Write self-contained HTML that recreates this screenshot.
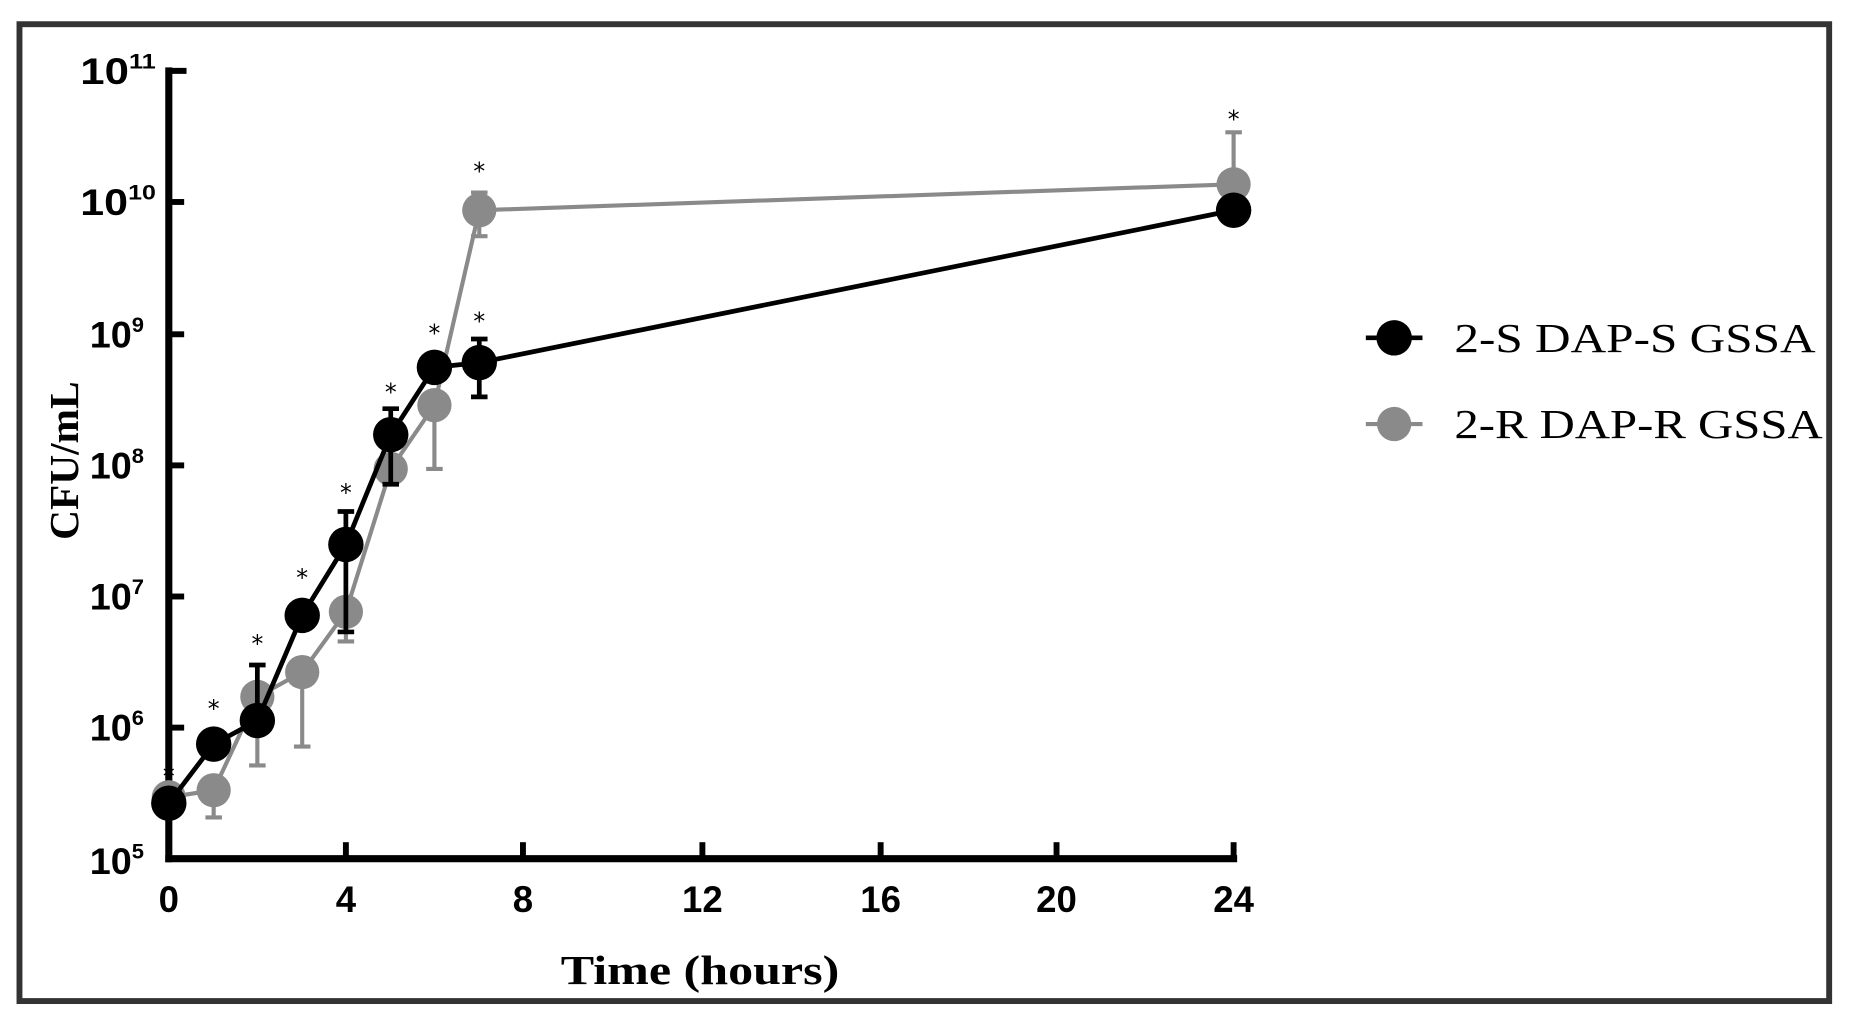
<!DOCTYPE html>
<html><head><meta charset="utf-8"><style>
html,body{margin:0;padding:0;background:#fff;}
svg{display:block}
</style></head><body>
<svg width="1851" height="1030" viewBox="0 0 1568 872" preserveAspectRatio="none" xmlns="http://www.w3.org/2000/svg">
<rect x="0" y="0" width="1568" height="872" fill="#fff"/>
<rect x="16.5" y="20.5" width="1533" height="827" fill="none" stroke="#333" stroke-width="5"/>
<g stroke="#000" stroke-width="6" fill="none">
<line x1="143" y1="57" x2="143" y2="730"/>
<line x1="140" y1="727" x2="1048" y2="727"/>
</g>
<g stroke="#000" stroke-width="5">
<line x1="143" y1="60" x2="158" y2="60"/>
<line x1="143" y1="171" x2="156" y2="171"/>
<line x1="143" y1="283" x2="156" y2="283"/>
<line x1="143" y1="394" x2="156" y2="394"/>
<line x1="143" y1="505" x2="156" y2="505"/>
<line x1="143" y1="616" x2="156" y2="616"/>
<line x1="293" y1="727" x2="293" y2="713"/>
<line x1="443" y1="727" x2="443" y2="713"/>
<line x1="595" y1="727" x2="595" y2="713"/>
<line x1="746" y1="727" x2="746" y2="713"/>
<line x1="895" y1="727" x2="895" y2="713"/>
<line x1="1045" y1="727" x2="1045" y2="713"/>
</g>
<g font-family="Liberation Sans, sans-serif" font-weight="bold" font-size="31" fill="#000" text-anchor="end">
<text x="132" y="71" textLength="64" lengthAdjust="spacingAndGlyphs">10<tspan font-size="18" dy="-13">11</tspan></text>
<text x="132" y="182" textLength="64" lengthAdjust="spacingAndGlyphs">10<tspan font-size="18" dy="-13">10</tspan></text>
<text x="122" y="294" textLength="46" lengthAdjust="spacingAndGlyphs">10<tspan font-size="18" dy="-13">9</tspan></text>
<text x="122" y="405" textLength="46" lengthAdjust="spacingAndGlyphs">10<tspan font-size="18" dy="-13">8</tspan></text>
<text x="122" y="516" textLength="46" lengthAdjust="spacingAndGlyphs">10<tspan font-size="18" dy="-13">7</tspan></text>
<text x="122" y="627" textLength="46" lengthAdjust="spacingAndGlyphs">10<tspan font-size="18" dy="-13">6</tspan></text>
<text x="122" y="740" textLength="46" lengthAdjust="spacingAndGlyphs">10<tspan font-size="18" dy="-13">5</tspan></text>
</g>
<g font-family="Liberation Sans, sans-serif" font-weight="bold" font-size="31" fill="#000" text-anchor="middle">
<text x="143" y="772">0</text><text x="293" y="772">4</text><text x="443" y="772">8</text>
<text x="595" y="772">12</text><text x="746" y="772">16</text><text x="895" y="772">20</text><text x="1045" y="772">24</text>
</g>
<text x="593" y="833" font-family="Liberation Serif, serif" font-weight="bold" font-size="35" text-anchor="middle" textLength="236" lengthAdjust="spacingAndGlyphs">Time (hours)</text>
<text transform="translate(66,390) rotate(-90)" font-family="Liberation Serif, serif" font-weight="bold" font-size="35" text-anchor="middle">CFU/mL</text>
<!-- gray series -->
<g stroke="#8a8a8a" stroke-width="3.5" fill="none">
<polyline points="143,675 181,669 218,590 256,569 293,518 331,397 368,343 406,178 1045,156"/>
<line x1="181" y1="669" x2="181" y2="692"/><line x1="174" y1="692" x2="188" y2="692"/>
<line x1="218" y1="590" x2="218" y2="648"/><line x1="211" y1="648" x2="225" y2="648"/>
<line x1="256" y1="569" x2="256" y2="632"/><line x1="249" y1="632" x2="263" y2="632"/>
<line x1="293" y1="518" x2="293" y2="543"/><line x1="286" y1="543" x2="300" y2="543"/>
<line x1="331" y1="397" x2="331" y2="408"/><line x1="324" y1="408" x2="338" y2="408"/>
<line x1="368" y1="343" x2="368" y2="397"/><line x1="361" y1="397" x2="375" y2="397"/>
<line x1="406" y1="163" x2="406" y2="200"/><line x1="399" y1="163" x2="413" y2="163"/><line x1="399" y1="200" x2="413" y2="200"/>
<line x1="1045" y1="112" x2="1045" y2="156"/><line x1="1038" y1="112" x2="1052" y2="112"/>
</g>
<g fill="#8a8a8a">
<circle cx="143" cy="675" r="14.5"/><circle cx="181" cy="669" r="14.5"/><circle cx="218" cy="590" r="14.5"/>
<circle cx="256" cy="569" r="14.5"/><circle cx="293" cy="518" r="14.5"/><circle cx="331" cy="397" r="14.5"/>
<circle cx="368" cy="343" r="14.5"/><circle cx="406" cy="178" r="14.5"/><circle cx="1045" cy="156" r="14.5"/>
</g>
<!-- black series -->
<g stroke="#000" stroke-width="4" fill="none">
<polyline points="143,680 181,630 218,610 256,521 293,461 331,368 368,311 406,307 1045,178"/>
<line x1="218" y1="563" x2="218" y2="610"/><line x1="211" y1="563" x2="225" y2="563"/>
<line x1="293" y1="433" x2="293" y2="535"/><line x1="286" y1="433" x2="300" y2="433"/><line x1="286" y1="535" x2="300" y2="535"/>
<line x1="331" y1="346" x2="331" y2="410"/><line x1="324" y1="346" x2="338" y2="346"/><line x1="324" y1="410" x2="338" y2="410"/>
<line x1="406" y1="287" x2="406" y2="336"/><line x1="399" y1="287" x2="413" y2="287"/><line x1="399" y1="336" x2="413" y2="336"/>
</g>
<g fill="#000">
<circle cx="143" cy="680" r="15"/><circle cx="181" cy="630" r="15"/><circle cx="218" cy="610" r="15"/>
<circle cx="256" cy="521" r="15"/><circle cx="293" cy="461" r="15"/><circle cx="331" cy="368" r="15"/>
<circle cx="368" cy="311" r="15"/><circle cx="406" cy="307" r="15"/><circle cx="1045" cy="178" r="15"/>
</g>
<g font-family="DejaVu Sans, sans-serif" font-size="20" fill="#000" text-anchor="middle">
<text x="143" y="664">*</text><text x="181" y="607">*</text><text x="218" y="552">*</text>
<text x="256" y="496">*</text><text x="293" y="424">*</text><text x="331" y="339">*</text>
<text x="368" y="289">*</text><text x="406" y="279">*</text><text x="406" y="152">*</text><text x="1045" y="108">*</text>
</g>
<!-- legend -->
<line x1="1157" y1="286" x2="1205" y2="286" stroke="#000" stroke-width="4"/>
<circle cx="1181" cy="286" r="15" fill="#000"/>
<text x="1232" y="298" font-family="Liberation Serif, serif" font-size="35" fill="#000" textLength="306" lengthAdjust="spacingAndGlyphs">2-S DAP-S GSSA</text>
<line x1="1157" y1="359" x2="1205" y2="359" stroke="#8a8a8a" stroke-width="3.5"/>
<circle cx="1181" cy="359" r="14.5" fill="#8a8a8a"/>
<text x="1232" y="371" font-family="Liberation Serif, serif" font-size="35" fill="#000" textLength="312" lengthAdjust="spacingAndGlyphs">2-R DAP-R GSSA</text>
</svg>
</body></html>
